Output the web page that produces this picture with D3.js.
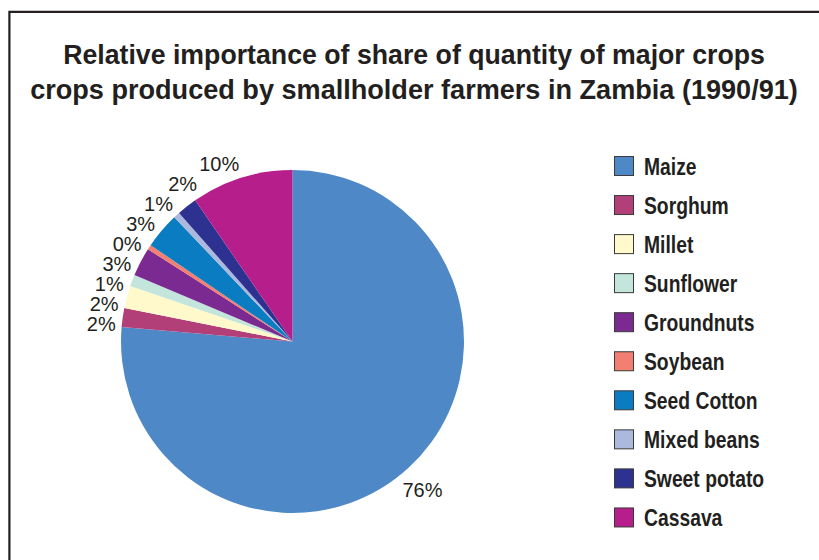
<!DOCTYPE html>
<html>
<head>
<meta charset="utf-8">
<script src="https://cdn.jsdelivr.net/npm/d3@7"></script>
<style>
  html, body { margin: 0; padding: 0; background: #ffffff; }
  svg { display: block; }
</style>
</head>
<body>
<svg id="chart" width="819" height="560"></svg>
<script>
// Crop shares (percent of quantity produced), 1990/91
const crops = ["Maize", "Sorghum", "Millet", "Sunflower", "Groundnuts", "Soybean",
               "Seed Cotton", "Mixed beans", "Sweet potato", "Cassava"];
const shares = [76.3, 1.8, 2.1, 1.1, 2.7, 0.45, 3.4, 0.6, 1.9, 9.6];
const colors = ["#4f88c7", "#b33f78", "#fff9cc", "#c4e5dc", "#7a2a90", "#f27f72",
                "#0a7cc1", "#abb9df", "#2d3190", "#b51e8b"];
const titleLines = ["Relative importance of share of quantity of major crops",
                    "crops produced by smallholder farmers in Zambia (1990/91)"];

const svg = d3.select("#chart");
const W = 819, H = 560;
const ink = "#231f20";

// Frame (left and top rules)
svg.append("path")
  .attr("d", `M9.4,${H} L9.4,11.9 L${W},11.9`)
  .attr("fill", "none")
  .attr("stroke", ink)
  .attr("stroke-width", 2.2);

// Title, condensed bold, centred
const titleWidths = [702, 768];
titleLines.forEach((line, i) => {
  const g = svg.append("g").attr("transform", `translate(414,${63.5 + i * 35})`);
  const t = g.append("text")
    .attr("text-anchor", "middle")
    .attr("font-family", "'Liberation Sans', Arial, sans-serif")
    .attr("font-weight", "bold")
    .attr("font-size", 28.5)
    .attr("fill", ink)
    .text(line);
  const natural = t.node().getComputedTextLength();
  t.attr("transform", `scale(${titleWidths[i] / natural},1)`);
});

// Pie
const cx = 292.5, cy = 341.5, R = 171.5;
const data = crops.map((c, i) => ({ crop: c, value: shares[i], color: colors[i] }));
const pie = d3.pie().value(d => d.value).sort(null).startAngle(0).endAngle(2 * Math.PI);
const arcs = pie(data);
const arc = d3.arc().innerRadius(0).outerRadius(R);

const pieG = svg.append("g").attr("transform", `translate(${cx},${cy})`);
pieG.selectAll("path")
  .data(arcs)
  .join("path")
  .attr("d", arc)
  .attr("fill", d => d.data.color);

// Percentage labels on an outer ring; left-side labels are stacked to avoid overlap
const LR = 192, yShift = 7, gap = 20;
const labels = arcs.map(a => {
  const m = (a.startAngle + a.endAngle) / 2;
  return {
    text: Math.round(a.data.value) + "%",
    angle: m,
    left: Math.sin(m) < 0,
    x: LR * Math.sin(m),
    y: -LR * Math.cos(m) + yShift
  };
});

function relax(list) {
  // list sorted by y ascending; merge overlapping neighbours into evenly spaced clusters
  let clusters = list.map(l => ({ items: [l], mean: l.y }));
  let changed = true;
  const top = c => c.mean - (c.items.length - 1) * gap / 2;
  const bottom = c => c.mean + (c.items.length - 1) * gap / 2;
  while (changed) {
    changed = false;
    for (let i = 0; i < clusters.length - 1; i++) {
      const a = clusters[i], b = clusters[i + 1];
      if (top(b) - bottom(a) < gap) {
        const items = a.items.concat(b.items);
        const mean = d3.mean(items, d => d.y);
        clusters.splice(i, 2, { items, mean });
        changed = true;
        break;
      }
    }
  }
  clusters.forEach(c => {
    c.items.forEach((it, k) => {
      it.ly = top(c) + k * gap;
    });
  });
}

const leftLabels = labels.filter(l => l.left).sort((a, b) => a.y - b.y);
relax(leftLabels);
leftLabels.forEach(l => {
  const dy = Math.max(-LR, Math.min(LR, l.ly));
  l.lx = -Math.sqrt(LR * LR - dy * dy);
});
labels.filter(l => !l.left).forEach(l => { l.lx = l.x; l.ly = l.y; });

pieG.selectAll("text.pct")
  .data(labels)
  .join("text")
  .attr("class", "pct")
  .attr("x", d => d.lx)
  .attr("y", d => d.ly + 7)
  .attr("text-anchor", "middle")
  .attr("font-family", "'Liberation Sans', Arial, sans-serif")
  .attr("font-size", 20)
  .attr("fill", ink)
  .text(d => d.text);

// Legend
const legend = svg.append("g").attr("transform", "translate(614,156)");
const rowStep = 39.05;
const rows = legend.selectAll("g.row")
  .data(data)
  .join("g")
  .attr("class", "row")
  .attr("transform", (d, i) => `translate(0,${i * rowStep})`);
rows.append("rect")
  .attr("x", 0.5).attr("y", 0.5)
  .attr("width", 19).attr("height", 19)
  .attr("fill", d => d.color)
  .attr("stroke", "#3a3a3a")
  .attr("stroke-width", 1);
rows.append("text")
  .attr("transform", "translate(30,18.5) scale(0.84,1)")
  .attr("font-family", "'Liberation Sans', Arial, sans-serif")
  .attr("font-weight", "bold")
  .attr("font-size", 23)
  .attr("fill", ink)
  .text(d => d.crop);
</script>
</body>
</html>
